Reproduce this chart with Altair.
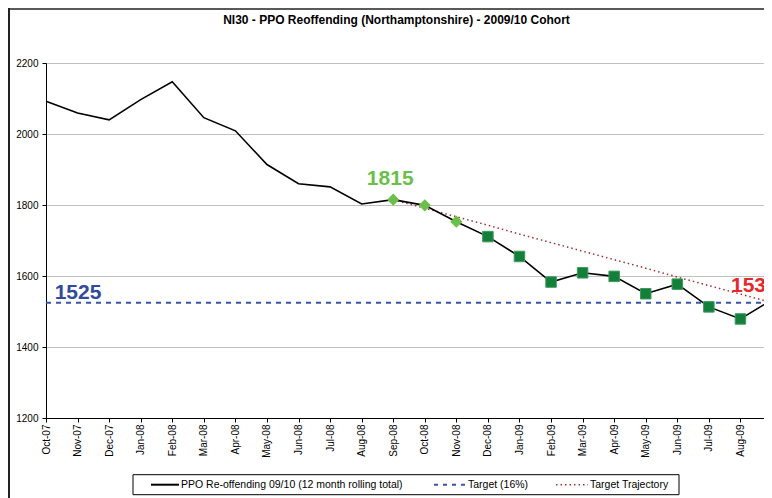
import altair as alt
import pandas as pd

# ---- data ----
months = ["Oct-07", "Nov-07", "Dec-07", "Jan-08", "Feb-08", "Mar-08", "Apr-08", "May-08",
          "Jun-08", "Jul-08", "Aug-08", "Sep-08", "Oct-08", "Nov-08", "Dec-08", "Jan-09",
          "Feb-09", "Mar-09", "Apr-09", "May-09", "Jun-09", "Jul-09", "Aug-09", "Sep-09"]
reoffending = [2092, 2059, 2040, 2097, 2147, 2046, 2009, 1914, 1860, 1851, 1803, 1815,
               1799, 1753, 1711, 1655, 1583, 1609, 1599, 1550, 1577, 1513, 1479, 1533]
marker_group = ["none"] * 11 + ["diamond"] * 3 + ["square"] * 9 + ["end"]
target_value = 1525
traj_months = ["Sep-08", "Oct-08", "Nov-08", "Dec-08", "Jan-09", "Feb-09", "Mar-09",
               "Apr-09", "May-09", "Jun-09", "Jul-09", "Aug-09", "Sep-09"]
trajectory = [1815, 1791, 1767, 1743, 1718, 1694, 1670, 1646, 1622, 1597, 1573, 1549, 1525]
y_ticks = [1200, 1300, 1400, 1500, 1600, 1700, 1800, 1900, 2000, 2100, 2200]

title_text = "NI30 - PPO Reoffending (Northamptonshire) - 2009/10 Cohort"
legend_labels = ["PPO Re-offending 09/10 (12 month rolling total)", "Target (16%)", "Target Trajectory"]

FONT = "Liberation Sans"
W, H = 718, 355          # visible plot area (the reference crops the last month)
X_RANGE = 726            # pixel position of the last month (beyond the visible edge)

df = pd.DataFrame({"month": months, "value": reoffending, "group": marker_group,
                   "target": [target_value] * len(months)})
traj_df = pd.DataFrame({"month": traj_months, "value": trajectory})
one = pd.DataFrame({"k": [0]})

xenc = alt.X("month:O", sort=months,
             scale=alt.Scale(type="point", domain=months, padding=0, range=[0, X_RANGE]),
             axis=alt.Axis(title=None, labelAngle=270, labelFontSize=10, labelFont=FONT,
                           labelColor="black", tickSize=4, tickColor="black",
                           domainColor="black", labelPadding=2, grid=False))
yscale = alt.Scale(domain=[1200, 2200], nice=False, zero=False)
yaxis = alt.Axis(title=None, values=y_ticks, format="d", labelFontSize=10, labelFont=FONT,
                 labelColor="black", tickSize=4, tickColor="black", domainColor="black",
                 labelPadding=4, grid=True, gridColor="#c0c0c0", gridWidth=1)

target_line = alt.Chart(df).mark_line(color="#3a55a8", strokeWidth=2, strokeDash=[5, 5]).encode(
    x=xenc, y=alt.Y("target:Q", scale=yscale, axis=yaxis))

traj_line = alt.Chart(traj_df).mark_line(color="#a0302f", strokeWidth=1.5, strokeDash=[1.5, 3]).encode(
    x=xenc, y=alt.Y("value:Q", scale=yscale))

main_line = alt.Chart(df).mark_line(color="black", strokeWidth=1.6).encode(
    x=xenc, y=alt.Y("value:Q", scale=yscale))

diamonds = alt.Chart(df).transform_filter(alt.datum.group == "diamond").mark_point(
    shape="diamond", filled=True, color="#6abf4b", size=150, opacity=1).encode(
    x=xenc, y=alt.Y("value:Q", scale=yscale))

squares = alt.Chart(df).transform_filter(alt.datum.group == "square").mark_point(
    shape="square", filled=True, color="#137f3b", size=110, opacity=1,
    stroke="#3c9a5c", strokeWidth=1).encode(
    x=xenc, y=alt.Y("value:Q", scale=yscale))

end_marker = alt.Chart(df).transform_filter(alt.datum.group == "end").mark_point(
    shape="triangle-up", filled=True, color="#e8262b", size=110, opacity=1).encode(
    x=xenc, y=alt.Y("value:Q", scale=yscale))

lab_1815 = alt.Chart(df).transform_filter(alt.datum.month == "Sep-08").mark_text(
    font=FONT, fontSize=21, fontWeight="bold", color="#6abf4b", align="center",
    baseline="alphabetic", dx=-3, dy=-15).encode(
    x=xenc, y=alt.Y("value:Q", scale=yscale), text=alt.Text("value:Q"))

lab_end = alt.Chart(df).transform_filter(alt.datum.month == "Sep-09").mark_text(
    font=FONT, fontSize=21, fontWeight="bold", color="#e8262b", align="left",
    baseline="alphabetic", dx=-41, dy=-8).encode(
    x=xenc, y=alt.Y("value:Q", scale=yscale), text=alt.Text("value:Q"))

lab_target = alt.Chart(df).transform_filter(alt.datum.month == "Oct-07").mark_text(
    font=FONT, fontSize=21, fontWeight="bold", color="#33499c", align="center",
    baseline="alphabetic", dx=32, dy=-4).encode(
    x=xenc, y=alt.Y("target:Q", scale=yscale), text=alt.Text("target:Q"))

title = alt.Chart(one).mark_text(font=FONT, fontSize=12, fontWeight="bold", color="black",
                                 align="center", baseline="middle").encode(
    x=alt.value(350.5), y=alt.value(-43), text=alt.value(title_text))

border_left = alt.Chart(one).mark_rule(color="#222222", strokeWidth=2).encode(
    x=alt.value(-37), y=alt.value(-55), y2=alt.value(H + 80))
border_top = alt.Chart(one).mark_rule(color="#222222", strokeWidth=1.5).encode(
    x=alt.value(-38), x2=alt.value(W), y=alt.value(-54))

legend_box = alt.Chart(one).mark_rect(fill="white", stroke="black", strokeWidth=1).encode(
    x=alt.value(87), x2=alt.value(633), y=alt.value(411.7), y2=alt.value(431.7))
ly = 421.7
leg_s1 = alt.Chart(one).mark_rule(color="black", strokeWidth=2).encode(
    x=alt.value(105), x2=alt.value(133), y=alt.value(ly))
leg_s2 = alt.Chart(one).mark_rule(color="#3a55a8", strokeWidth=2, strokeDash=[4, 5]).encode(
    x=alt.value(388), x2=alt.value(421), y=alt.value(ly))
leg_s3 = alt.Chart(one).mark_rule(color="#a0302f", strokeWidth=1.5, strokeDash=[1.5, 3]).encode(
    x=alt.value(510), x2=alt.value(542), y=alt.value(ly))
leg_t1 = alt.Chart(one).mark_text(font=FONT, fontSize=10.5, color="black", align="left",
                                  baseline="middle").encode(
    x=alt.value(135), y=alt.value(ly), text=alt.value(legend_labels[0]))
leg_t2 = alt.Chart(one).mark_text(font=FONT, fontSize=10.5, color="black", align="left",
                                  baseline="middle").encode(
    x=alt.value(422), y=alt.value(ly), text=alt.value(legend_labels[1]))
leg_t3 = alt.Chart(one).mark_text(font=FONT, fontSize=10.5, color="black", align="left",
                                  baseline="middle").encode(
    x=alt.value(544), y=alt.value(ly), text=alt.value(legend_labels[2]))

chart = alt.layer(
    target_line, traj_line, main_line, diamonds, squares, end_marker,
    lab_1815, lab_end, lab_target, title, border_left, border_top,
    legend_box, leg_s1, leg_s2, leg_s3, leg_t1, leg_t2, leg_t3
).properties(
    width=W, height=H,
    autosize=alt.AutoSizeParams(type="none"),
    padding={"left": 38, "top": 55, "right": 0, "bottom": 80},
    background="white",
).configure_view(stroke=None)

chart.save("out.html", embed_options={"renderer": "svg", "actions": False})
